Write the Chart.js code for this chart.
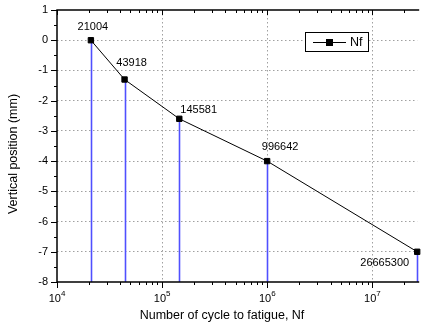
<!DOCTYPE html>
<html>
<head>
<meta charset="utf-8">
<script src="https://cdn.jsdelivr.net/npm/chart.js@4/dist/chart.umd.min.js"></script>
<style>
  html, body { margin: 0; padding: 0; background: #fff; }
  #wrap { width: 422px; height: 329px; }
</style>
</head>
<body>
<div id="wrap"><canvas id="fatigueChart" width="422" height="329"></canvas></div>
<script>
// Data
const cycles = [21004, 43918, 145581, 996642, 26665300];
const positions = [0, -1.3, -2.6, -4, -7];
const yTicks = [1, 0, -1, -2, -3, -4, -5, -6, -7, -8];
const xDecades = [4, 5, 6, 7];

const FONT = '"Liberation Sans", Arial, sans-serif';

// label placement next to each point: [dx, dy, align]
const labelPlace = [
    [2, -13, 'center'],
    [7, -17, 'center'],
    [1, -9, 'left'],
    [13, -14, 'center'],
    [-8, 11, 'right']
];

function minorTicks(){
    const out = [];
    xDecades.forEach(d=>{
        for(let m = 2; m <= 9; m++) out.push(m * Math.pow(10, d));
    });
    return out;
}

const framePlugin = {
    id: 'frame',
    beforeDatasetsDraw(chart){
        const ctx = chart.ctx;
        const x = chart.scales.x, y = chart.scales.y;
        const bottom = chart.chartArea.bottom;
        // blue drop lines down to the axis
        ctx.save();
        ctx.strokeStyle = '#5050ff';
        ctx.lineWidth = 1.6;
        cycles.forEach((c, i)=>{
            const px = Math.round(x.getPixelForValue(c)) + 0.5;
            ctx.beginPath();
            ctx.moveTo(px, y.getPixelForValue(positions[i]));
            ctx.lineTo(px, bottom);
            ctx.stroke();
        });
        ctx.restore();
    },
    afterDatasetsDraw(chart){
        const ctx = chart.ctx;
        const x = chart.scales.x, y = chart.scales.y;
        const a = chart.chartArea;
        ctx.save();

        // frame (right side runs off the canvas)
        ctx.strokeStyle = '#000';
        ctx.lineWidth = 1.5;
        ctx.beginPath();
        ctx.moveTo(a.right + 2, a.top);
        ctx.lineTo(a.left, a.top);
        ctx.lineTo(a.left, a.bottom);
        ctx.lineTo(a.right + 2, a.bottom);
        ctx.stroke();

        // x ticks, bottom outward / top inward
        ctx.lineWidth = 1;
        ctx.beginPath();
        xDecades.forEach(d=>{
            const px = Math.round(x.getPixelForValue(Math.pow(10, d))) + 0.5;
            ctx.moveTo(px, a.bottom); ctx.lineTo(px, a.bottom + 6);
            ctx.moveTo(px, a.top); ctx.lineTo(px, a.top + 5);
        });
        minorTicks().forEach(v=>{
            if(v > x.max) return;
            const px = Math.round(x.getPixelForValue(v)) + 0.5;
            ctx.moveTo(px, a.bottom); ctx.lineTo(px, a.bottom + 3);
            ctx.moveTo(px, a.top); ctx.lineTo(px, a.top + 3);
        });
        // y ticks on the left, outward
        yTicks.forEach(v=>{
            const py = Math.round(y.getPixelForValue(v)) + 0.5;
            ctx.moveTo(a.left - 6, py); ctx.lineTo(a.left, py);
            if(v > y.min){
                const pm = Math.round(y.getPixelForValue(v - 0.5)) + 0.5;
                ctx.moveTo(a.left - 3, pm); ctx.lineTo(a.left, pm);
            }
        });
        ctx.stroke();

        // y tick labels
        ctx.fillStyle = '#000';
        ctx.font = '11px ' + FONT;
        ctx.textAlign = 'right';
        ctx.textBaseline = 'middle';
        yTicks.forEach(v=>{
            ctx.fillText(String(v), a.left - 9, y.getPixelForValue(v));
        });

        // x tick labels as 10 with superscript exponent
        xDecades.forEach(d=>{
            const px = x.getPixelForValue(Math.pow(10, d));
            ctx.font = '11px ' + FONT;
            const w1 = ctx.measureText('10').width;
            ctx.font = '8px ' + FONT;
            const w2 = ctx.measureText(String(d)).width;
            const sx = px - (w1 + w2) / 2;
            ctx.textAlign = 'left';
            ctx.textBaseline = 'alphabetic';
            ctx.font = '11px ' + FONT;
            ctx.fillText('10', sx, a.bottom + 20);
            ctx.font = '8px ' + FONT;
            ctx.fillText(String(d), sx + w1, a.bottom + 14);
        });

        // axis titles
        ctx.font = '12.5px ' + FONT;
        ctx.textAlign = 'center';
        ctx.textBaseline = 'middle';
        ctx.fillText('Number of cycle to fatigue, Nf', 222, 316);
        ctx.save();
        ctx.translate(14, 154);
        ctx.rotate(-Math.PI / 2);
        ctx.fillText('Vertical position (mm)', 0, 0);
        ctx.restore();

        // value labels
        ctx.font = '11px ' + FONT;
        cycles.forEach((c, i)=>{
            const p = labelPlace[i];
            ctx.textAlign = p[2];
            ctx.fillText(String(c), x.getPixelForValue(c) + p[0], y.getPixelForValue(positions[i]) + p[1]);
        });

        // legend
        ctx.fillStyle = '#fff';
        ctx.fillRect(305, 32, 63, 19);
        ctx.strokeStyle = '#000';
        ctx.lineWidth = 1;
        ctx.strokeRect(305.5, 32.5, 63, 19);
        ctx.beginPath();
        ctx.moveTo(313, 42.5); ctx.lineTo(346, 42.5);
        ctx.stroke();
        ctx.fillStyle = '#000';
        ctx.fillRect(326, 39, 7, 7);
        ctx.font = '12.5px ' + FONT;
        ctx.textAlign = 'left';
        ctx.fillText(chart.data.datasets[0].label, 350, 42.5);

        ctx.restore();
    }
};

const ctx = document.getElementById('fatigueChart').getContext('2d');
const chart = new Chart(ctx, {
    type: 'line',
    data: {
        datasets: [{
            label: 'Nf',
            data: cycles.map((c, i)=>({x: c, y: positions[i]})),
            borderColor: '#000',
            borderWidth: 1,
            backgroundColor: '#000',
            pointStyle: 'rect',
            pointRadius: 3.8,
            pointHoverRadius: 3.8,
            tension: 0,
            clip: false
        }]
    },
    options: {
        responsive: false,
        animation: false,
        events: [],
        layout: { padding: { top: 10, right: 1, left: 0, bottom: 0 } },
        plugins: { legend: { display: false }, tooltip: { enabled: false } },
        scales: {
            x: {
                type: 'logarithmic',
                min: 10000,
                max: cycles[cycles.length - 1],
                afterBuildTicks: s=>{ s.ticks = xDecades.map(d=>({value: Math.pow(10, d)})); },
                afterFit: s=>{ s.height = 47; },
                ticks: { display: false },
                border: { display: false, dash: [1.5, 2.5] },
                grid: {
                    drawTicks: false,
                    lineWidth: 1,
                    color: c=> c.tick && c.tick.value > 10000 ? '#a0a0a0' : 'rgba(0,0,0,0)'
                }
            },
            y: {
                min: -8,
                max: 1,
                afterBuildTicks: s=>{ s.ticks = yTicks.map(v=>({value: v})); },
                afterFit: s=>{ s.width = 57; },
                ticks: { display: false },
                border: { display: false, dash: [1.5, 2.5] },
                grid: {
                    drawTicks: false,
                    lineWidth: 1,
                    color: c=> c.tick && c.tick.value < 1 && c.tick.value > -8 ? '#a0a0a0' : 'rgba(0,0,0,0)'
                }
            }
        }
    },
    plugins: [framePlugin]
});
</script>
</body>
</html>
